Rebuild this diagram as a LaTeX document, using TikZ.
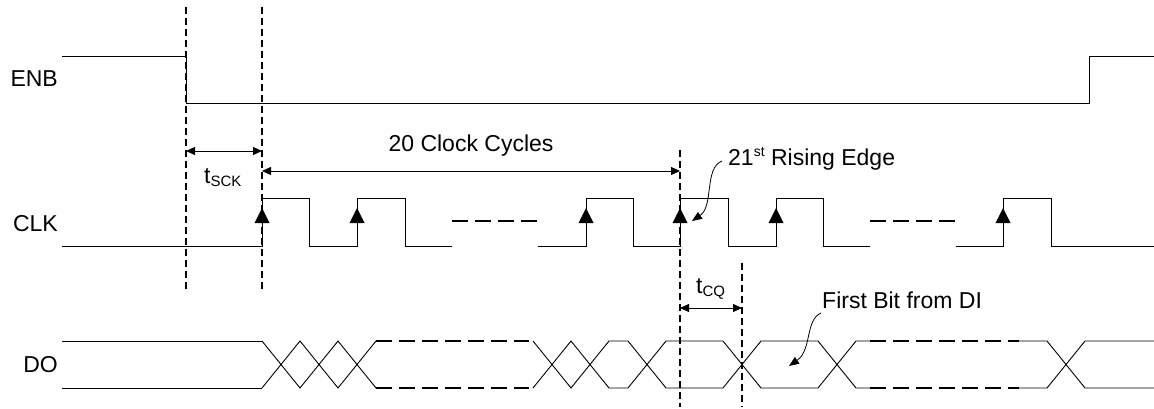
\documentclass[tikz,border=0pt]{standalone}
\usepackage{fontspec}
\setmainfont{Liberation Sans}
\usetikzlibrary{arrows.meta}
\tikzset{
  sig/.style={line width=0.9pt, black},
  vdash/.style={line width=2pt, black, dash pattern=on 7pt off 4pt},
  hdash/.style={line width=1.9pt, black, dash pattern=on 16pt off 7pt},
  dim/.style={line width=0.8pt, {Triangle[length=9pt,width=8pt]}-{Triangle[length=9pt,width=8pt]}},
  callout/.style={line width=0.8pt, -{Triangle[length=10pt,width=8pt]}},
  lbl/.style={inner sep=0pt, font=\fontsize{23}{27}\selectfont},
  edge/.style={fill=black}
}
\newcommand{\subtxt}[1]{\raisebox{-0.25ex}{\fontsize{15}{15}\selectfont #1}}
\newcommand{\suptxt}[1]{\raisebox{0.75ex}{\fontsize{14}{14}\selectfont #1}}
\newcommand{\redge}[1]{\fill (#1-7.5,223) -- (#1+7.5,223) -- (#1,208) -- cycle;}
\begin{document}
\begin{tikzpicture}[x=1pt,y=-1pt]
\useasboundingbox (0,0) rectangle (1154,409);
% labels
\node[lbl, anchor=base east] (enb) at (58,87) {ENB};
\node[lbl, anchor=base east] (clk) at (58,231) {CLK};
\node[lbl, anchor=base east] (do) at (58,372) {DO};
% ENB
\draw[sig] (62,56) -- (186,56) -- (186,103) -- (1089,103) -- (1089,56) -- (1154,56);
% vertical dashed markers
\coordinate (v1t) at (186,7); \coordinate (v1b) at (186,290);
\coordinate (v2t) at (262,7); \coordinate (v2b) at (262,290);
\coordinate (v3t) at (680,150); \coordinate (v3b) at (680,407);
\coordinate (v4t) at (742,263); \coordinate (v4b) at (742,407);
\draw[vdash] (v1t) -- (v1b);
\draw[vdash] (v2t) -- (v2b);
\draw[vdash] (v3t) -- (v3b);
\draw[vdash] (v4t) -- (v4b);
% CLK
\draw[sig] (62,246) -- (262,246) -- (262,198) -- (309,198) -- (309,246) -- (357,246) -- (357,198) -- (405,198) -- (405,246) -- (452,246);
\draw[hdash] (452,221) -- (537,221);
\draw[sig] (538,246) -- (586,246) -- (586,198) -- (633,198) -- (633,246) -- (680,246) -- (680,198) -- (728,198) -- (728,246) -- (776,246) -- (776,198) -- (823,198) -- (823,246) -- (870,246);
\draw[hdash] (870,221) -- (955,221);
\draw[sig] (956,246) -- (1003,246) -- (1003,198) -- (1051,198) -- (1051,246) -- (1154,246);
\redge{262}\redge{357}\redge{586}\redge{680}\redge{776}\redge{1003}
% dimension arrows
\coordinate (a1) at (186,151); \coordinate (a2) at (262,151);
\draw[dim] (a1) -- (a2);
\node[lbl, anchor=base west] (tsck) at (204,183) {t\subtxt{SCK}};
\coordinate (c1) at (262,171); \coordinate (c2) at (680,171);
\draw[dim] (c1) -- (c2);
\node[lbl, anchor=base] (cyc) at (471,152) {20 Clock Cycles};
\coordinate (q1) at (680,308); \coordinate (q2) at (742,308);
\draw[dim] (q1) -- (q2);
\node[lbl, anchor=base west] (tcq) at (696,293) {t\subtxt{CQ}};
% callouts
\node[lbl, anchor=base west] (rise) at (728,166) {21\suptxt{st} Rising Edge};
\coordinate (rs) at (722,161);
\coordinate (rt) at (692,221);
\draw[callout] (rs) .. controls (704,168) and (714,206) .. (rt);
\node[lbl, anchor=base west] (fb) at (822,308) {First Bit from DI};
\coordinate (fs) at (821,313);
\coordinate (ft) at (789,366);
\draw[callout] (fs) .. controls (805,320) and (812,350) .. (ft);
% DO bus
\def\T{341}\def\B{388}
\draw[sig] (62,\T) -- (262,\T) (62,\B) -- (262,\B);
\draw[sig] (262,\T) -- (300,\B) -- (338,\T) -- (376,\B);
\draw[sig] (262,\B) -- (300,\T) -- (338,\B) -- (376,\T);
\draw[hdash] (376,\T) -- (529,\T) (376,\B) -- (529,\B);
\draw[sig] (533,\T) -- (571,\B) -- (609,\T) -- (628,\T) -- (666,\B) -- (723,\B) -- (761,\T) -- (818,\T) -- (856,\B) -- (870,\B);
\draw[sig] (533,\B) -- (571,\T) -- (609,\B) -- (628,\B) -- (666,\T) -- (723,\T) -- (761,\B) -- (818,\B) -- (856,\T) -- (870,\T);
\draw[hdash] (870,\T) -- (1019,\T) (870,\B) -- (1019,\B);
\draw[sig] (1019,\T) -- (1047,\T) -- (1085,\B) -- (1154,\B);
\draw[sig] (1019,\B) -- (1047,\B) -- (1085,\T) -- (1154,\T);
\end{tikzpicture}
\end{document}
